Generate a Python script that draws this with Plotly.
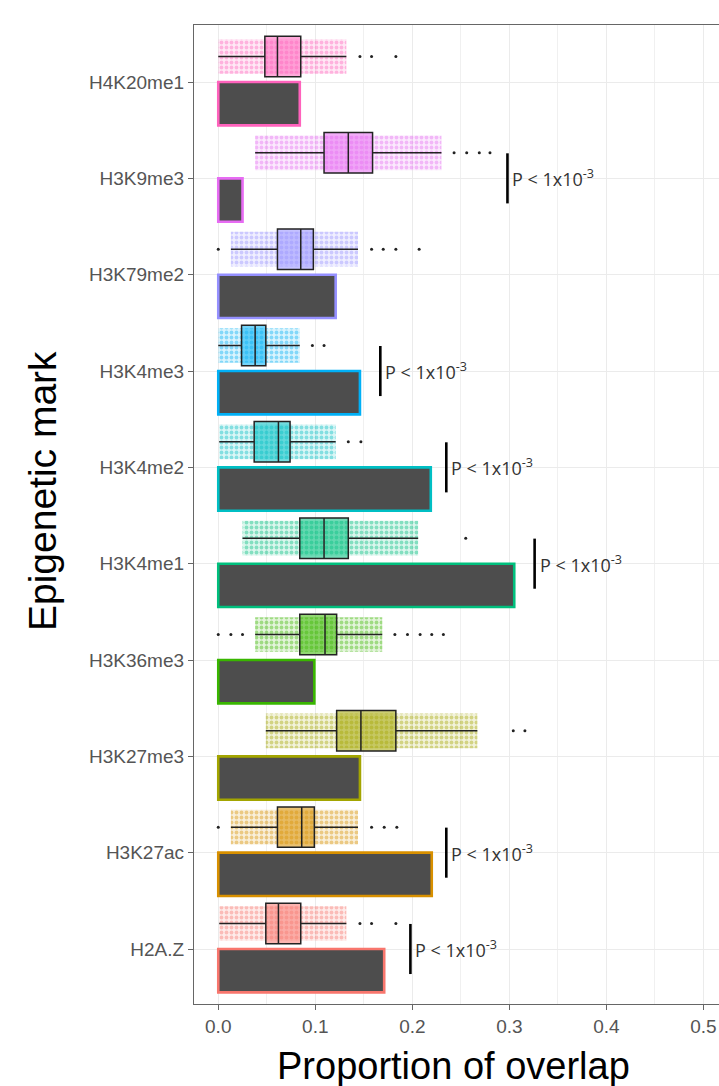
import plotly.graph_objects as go

# ---- data ----
marks = ["H2A.Z", "H3K27ac", "H3K27me3", "H3K36me3", "H3K4me1",
         "H3K4me2", "H3K4me3", "H3K79me2", "H3K9me3", "H4K20me1"]
colors = ["#F8766D", "#D89000", "#A3A500", "#39B600", "#00BF7D",
          "#00BFC4", "#00B0F6", "#9590FF", "#E76BF3", "#FF62BC"]

# observed overlap (bars)
observed = [0.171, 0.220, 0.146, 0.099, 0.305, 0.219, 0.146, 0.121, 0.025, 0.084]

# null distribution (boxplots)
lower_whisker = [0.001, 0.013, 0.049, 0.038, 0.025, 0.001, 0.000, 0.013, 0.038, 0.000]
q1 = [0.049, 0.061, 0.122, 0.084, 0.084, 0.037, 0.024, 0.061, 0.109, 0.048]
median = [0.062, 0.086, 0.147, 0.110, 0.109, 0.062, 0.038, 0.085, 0.134, 0.061]
q3 = [0.085, 0.099, 0.183, 0.122, 0.134, 0.074, 0.049, 0.098, 0.159, 0.085]
upper_whisker = [0.132, 0.144, 0.267, 0.169, 0.206, 0.121, 0.084, 0.144, 0.230, 0.132]
outliers = [
    [0.146, 0.158, 0.183],
    [0.000, 0.158, 0.171, 0.184],
    [0.304, 0.316],
    [0.000, 0.013, 0.025, 0.182, 0.195, 0.208, 0.220, 0.232],
    [0.255],
    [0.134, 0.147],
    [0.097, 0.109],
    [0.000, 0.158, 0.170, 0.183, 0.207],
    [0.243, 0.256, 0.269, 0.280],
    [0.146, 0.158, 0.183],
]

# significance annotations
p_marks = ["H2A.Z", "H3K27ac", "H3K4me1", "H3K4me2", "H3K4me3", "H3K9me3"]
p_x = [0.198, 0.235, 0.326, 0.235, 0.167, 0.298]
p_label = "P < 1x10<sup>-3</sup>"

x_ticks = [0.0, 0.1, 0.2, 0.3, 0.4, 0.5]
x_ticktext = ["0.0", "0.1", "0.2", "0.3", "0.4", "0.5"]


def rgba(hexc, a):
    h = hexc.lstrip("#")
    r, g, b = int(h[0:2], 16), int(h[2:4], 16), int(h[4:6], 16)
    return f"rgba({r},{g},{b},{a})"


fig = go.Figure()
BOX_OFF = 0.265
BAR_OFF = -0.225

for i, (m, c) in enumerate(zip(marks, colors)):
    pos = i + BOX_OFF
    # jittered null points rendered as a dotted cloud
    fig.add_trace(go.Bar(
        orientation="h", y=[pos], base=[lower_whisker[i]],
        x=[upper_whisker[i] - lower_whisker[i]], width=0.36,
        marker=dict(color=rgba(c, 0.14), line=dict(width=0),
                    pattern=dict(shape=".", fgcolor=rgba(c, 0.8), size=5,
                                 solidity=0.45, fillmode="overlay")),
        showlegend=False, hoverinfo="skip"))
    # boxplot
    fig.add_trace(go.Box(
        orientation="h", y=[pos], q1=[q1[i]], median=[median[i]], q3=[q3[i]],
        lowerfence=[lower_whisker[i]], upperfence=[upper_whisker[i]],
        width=0.42, whiskerwidth=0, boxpoints=False,
        fillcolor=rgba(c, 0.55), line=dict(color="#222222", width=1.5),
        showlegend=False))
    # outliers
    fig.add_trace(go.Scatter(
        x=outliers[i], y=[pos] * len(outliers[i]), mode="markers",
        marker=dict(color="#222222", size=3), showlegend=False))

# observed bars
fig.add_trace(go.Bar(
    orientation="h", y=[i + BAR_OFF for i in range(len(marks))], x=observed,
    width=0.45, marker=dict(color="#4D4D4D", line=dict(color=colors, width=2.6)),
    showlegend=False))

# p-value marks
for m, px in zip(p_marks, p_x):
    i = marks.index(m)
    fig.add_trace(go.Scatter(
        x=[px, px], y=[i - 0.26, i + 0.26], mode="lines",
        line=dict(color="black", width=2.6), showlegend=False))
    fig.add_annotation(x=px, y=i, text=p_label, showarrow=False,
                       xanchor="left", yanchor="middle", xshift=3,
                       font=dict(family="Open Sans", size=18, color="#333333"))

fig.update_layout(
    width=719, height=1086,
    margin=dict(l=194, r=0, t=25, b=82),
    plot_bgcolor="white", paper_bgcolor="white",
    barmode="overlay",
    font=dict(family="Liberation Sans", color="#4D4D4D"),
)
fig.update_xaxes(
    range=[-0.025, 0.516], tickvals=x_ticks, ticktext=x_ticktext,
    tickfont=dict(size=19, color="#555555"),
    showgrid=True, gridcolor="#EBEBEB", gridwidth=1.3,
    minor=dict(dtick=0.05, tick0=0, showgrid=True, gridcolor="#F0F0F0", gridwidth=1),
    showline=True, linecolor="#666666", linewidth=1.3, mirror=True,
    ticks="outside", ticklen=5, tickcolor="#666666", zeroline=False,
)
fig.update_yaxes(
    range=[-0.571, 9.592], tickvals=list(range(len(marks))), ticktext=marks,
    tickfont=dict(size=19, color="#555555"),
    showgrid=True, gridcolor="#EBEBEB", gridwidth=1.3,
    showline=True, linecolor="#666666", linewidth=1.3, mirror=False,
    ticks="outside", ticklen=5, tickcolor="#666666", zeroline=False,
)
fig.add_annotation(xref="paper", yref="paper", x=0.495, y=-0.0633,
                   text="Proportion of overlap", showarrow=False,
                   xanchor="center", yanchor="middle",
                   font=dict(family="Liberation Sans", size=38, color="black"))
fig.add_annotation(xref="paper", yref="paper", x=-0.2895, y=0.524,
                   text="Epigenetic mark", showarrow=False, textangle=-90,
                   xanchor="center", yanchor="middle",
                   font=dict(family="Liberation Sans", size=39, color="black"))

fig.write_html("out.html")
